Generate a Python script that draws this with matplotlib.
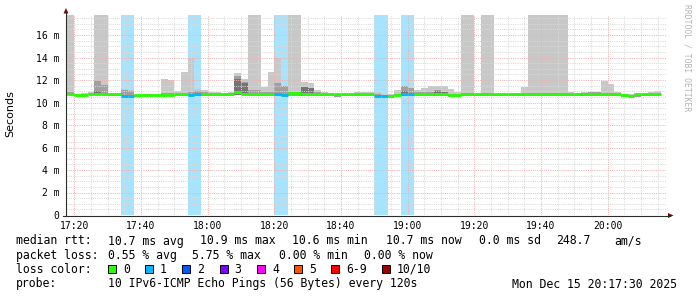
import numpy as np
import matplotlib
matplotlib.use("Agg")
import matplotlib.pyplot as plt
from matplotlib.patches import Rectangle, Polygon

# one column per 120 s step, minutes since midnight
t_start = 17 * 60 + 16
step = 2

# smoke top (ms); 25 = off the scale
hi = [25, 25, 10.80, 10.85, 10.95, 25, 25, 10.80, 10.85, 11.20,
      11.10, 10.70, 10.80, 10.80, 10.80, 12.10, 12.00, 11.00, 12.70, 14.00,
      11.20, 11.10, 10.95, 10.90, 10.85, 10.95, 12.65, 12.05, 25, 25,
      11.40, 12.75, 14.00, 11.45, 25, 25, 11.85, 11.70, 11.10, 10.90,
      10.85, 10.80, 10.80, 10.80, 10.95, 10.95, 10.95, 10.90, 10.80, 10.75,
      11.10, 11.45, 11.30, 11.10, 11.30, 11.50, 11.50, 11.50, 11.20, 10.95,
      25, 25, 10.80, 25, 25, 10.80, 10.80, 10.80, 10.85, 11.40,
      25, 25, 25, 25, 25, 25, 10.95, 10.80, 10.90, 10.95,
      10.95, 11.95, 11.65, 10.95, 10.80, 10.80, 10.80, 10.80, 10.95, 11.00]

# inner (darker) smoke top
mid = [10.90, 10.90, 10.75, 10.75, 10.80, 11.90, 11.55, 10.75, 10.75, 11.15,
       11.05, 10.65, 10.70, 10.70, 10.70, 10.85, 10.85, 10.80, 10.85, 10.95,
       11.00, 10.90, 10.80, 10.80, 10.80, 10.80, 12.40, 11.80, 11.10, 11.10,
       10.90, 10.90, 11.70, 11.45, 10.95, 10.95, 11.40, 11.30, 10.90, 10.80,
       10.80, 10.70, 10.70, 10.70, 10.80, 10.80, 10.80, 10.75, 10.70, 10.60,
       10.80, 11.45, 11.30, 10.95, 10.90, 10.90, 11.10, 10.95, 10.80, 10.75,
       10.85, 10.85, 10.75, 10.85, 10.85, 10.75, 10.75, 10.75, 10.80, 10.80,
       10.85, 10.85, 10.85, 10.85, 10.85, 10.85, 10.80, 10.75, 10.85, 10.90,
       10.90, 10.85, 10.85, 10.80, 10.70, 10.70, 10.75, 10.75, 10.80, 10.80]

# darkest smoke core, only where it shows
dark = {5: 11.0, 26: 12.1, 27: 11.75, 36: 11.35, 37: 11.25, 51: 11.0,
        56: 11.05, 57: 10.95, 78: 10.85}

# smoke bottom
lo = [10.65, 10.65, 10.55, 10.55, 10.65, 10.65, 10.65, 10.60, 10.60, 10.55,
      10.55, 10.50, 10.55, 10.55, 10.55, 10.60, 10.60, 10.60, 10.60, 10.60,
      10.60, 10.60, 10.60, 10.60, 10.60, 10.60, 10.70, 10.65, 10.60, 10.60,
      10.60, 10.60, 10.60, 10.60, 10.60, 10.60, 10.60, 10.60, 10.60, 10.60,
      10.60, 10.50, 10.55, 10.55, 10.60, 10.60, 10.60, 10.55, 10.55, 10.50,
      10.60, 10.60, 10.60, 10.60, 10.60, 10.60, 10.60, 10.60, 10.50, 10.50,
      10.60, 10.60, 10.60, 10.60, 10.60, 10.60, 10.60, 10.60, 10.60, 10.60,
      10.60, 10.60, 10.60, 10.60, 10.60, 10.60, 10.60, 10.60, 10.60, 10.60,
      10.60, 10.60, 10.60, 10.60, 10.50, 10.50, 10.50, 10.60, 10.60, 10.60]

med = [10.75, 10.75, 10.70, 10.70, 10.75, 10.75, 10.75, 10.75, 10.75, 10.62,
       10.62, 10.65, 10.65, 10.65, 10.65, 10.70, 10.70, 10.75, 10.75, 10.68,
       10.72, 10.75, 10.75, 10.75, 10.75, 10.75, 10.90, 10.80, 10.75, 10.75,
       10.75, 10.78, 10.75, 10.70, 10.88, 10.88, 10.80, 10.80, 10.75, 10.75,
       10.78, 10.72, 10.72, 10.72, 10.75, 10.75, 10.75, 10.62, 10.62, 10.55,
       10.70, 10.78, 10.72, 10.75, 10.75, 10.75, 10.75, 10.75, 10.70, 10.70,
       10.75, 10.75, 10.75, 10.75, 10.75, 10.72, 10.72, 10.72, 10.75, 10.75,
       10.75, 10.75, 10.75, 10.75, 10.75, 10.75, 10.72, 10.72, 10.75, 10.75,
       10.75, 10.78, 10.75, 10.72, 10.68, 10.62, 10.72, 10.72, 10.75, 10.75]

# lost pings per step (of 10)
loss = [0] * 90
for k in [9, 10, 19, 20, 32, 33, 47, 48, 51, 52]:
    loss[k] = 1

loss_labels = ["0", "1", "2", "3", "4", "5", "6-9", "10/10"]
loss_colors = ["#26ff00", "#00b8ff", "#0059ff", "#7e00ff", "#ff00ff",
               "#ff5500", "#ff0000", "#a10000"]

W, H = 697, 297
mono = "DejaVu Sans Mono"

fig = plt.figure(figsize=(W / 100, H / 100), dpi=100)
ax = fig.add_axes([66 / W, 1 - 215 / H, 600 / W, 200 / H])
ymax = 200 / 11.25
ax.set_xlim(t_start + 1.5, t_start + 181.5)
ax.set_ylim(0, ymax)

times = t_start + step * np.arange(len(med))
hi = np.array(hi); mid = np.array(mid); lo = np.array(lo)
med = np.array(med); loss = np.array(loss)

# loss background
lx = times[loss > 0]
ax.bar(lx, ymax, bottom=0, width=step, align="edge", color="#a6e3ff",
       linewidth=0, zorder=0.5)

# smoke
ax.bar(times, hi - lo, bottom=lo, width=step, align="edge", color="#c8c8c8",
       linewidth=0, zorder=1)
ax.bar(times, mid - lo, bottom=lo, width=step, align="edge", color="#a0a0a0",
       linewidth=0, zorder=1.1)
dk = np.array(sorted(dark))
ax.bar(times[dk], np.array([dark[k] for k in dk]) - lo[dk], bottom=lo[dk],
       width=step, align="edge", color="#747474", linewidth=0, zorder=1.2)

# grid: fine dotted lines
x_major = np.arange(17 * 60 + 20, 20 * 60 + 20, 20)
x_minor = np.arange(17 * 60 + 20, 20 * 60 + 20, 5)
y_major = np.arange(0, 17, 2)
y_minor = np.arange(0.5, 17.8, 0.5)
gkw = dict(lw=0.72, dashes=(1, 1.2))
for x in x_minor:
    if x not in x_major:
        ax.axvline(x, color="#d8d8d8", zorder=1.5, **gkw)
for y in y_minor:
    if y not in y_major:
        ax.axhline(y, color="#d8d8d8", zorder=1.5, **gkw)
for x in x_major:
    ax.axvline(x, color="#eeb0b0", zorder=1.6, **gkw)
for y in y_major[1:]:
    ax.axhline(y, color="#eeb0b0", zorder=1.6, **gkw)

# median rtt coloured by loss
ax.hlines(med, times, times + step, colors=[loss_colors[l] for l in loss],
          lw=2.1, zorder=3)

for s in ax.spines.values():
    s.set_visible(False)
ax.set_xticks(x_major)
ax.set_xticklabels(["%02d:%02d" % (m // 60, m % 60) for m in x_major],
                   fontfamily=mono, fontsize=7)
ax.set_yticks(y_major)
ax.set_yticklabels(["%d m" % v if v else "0" for v in y_major],
                   fontfamily=mono, fontsize=7)
ax.tick_params(length=0)
ax.tick_params(axis="x", pad=4)
ax.tick_params(axis="y", pad=4.5)

# overlay in pixel coordinates
ov = fig.add_axes([0, 0, 1, 1], facecolor="none")
ov.set_xlim(0, W)
ov.set_ylim(H, 0)
ov.axis("off")

axis_col = "#2c2c2c"
arrow_col = "#7f0000"
ov.plot([66, 66], [216, 11], color=axis_col, lw=0.8)
ov.plot([63, 670], [215.5, 215.5], color=axis_col, lw=0.8)
ov.add_patch(Polygon([[63.5, 13.5], [68.5, 13.5], [66, 8]], closed=True,
                     color=arrow_col, lw=0))
ov.add_patch(Polygon([[668, 213], [668, 218], [673.5, 215.5]], closed=True,
                     color=arrow_col, lw=0))

ov.text(10.5, 113.5, "Seconds", rotation=90, ha="center", va="center",
        fontsize=8, family="DejaVu Sans", color="#000000")
ov.text(687.5, 4, "RRDTOOL / TOBI OETIKER", rotation=-90, ha="center",
        va="top", fontsize=5.8, family=mono, color="#b4b4b4")

fs = 8.3
rows = [244.5, 259, 273, 287.5]
row1 = [(16, "median rtt:"), (107.5, "10.7 ms avg"), (200, "10.9 ms max"),
        (292.5, "10.6 ms min"), (386.5, "10.7 ms now"), (479, "0.0 ms sd"),
        (556, "248.7"), (614, "am/s")]
row2 = [(16, "packet loss:"), (107.5, "0.55 % avg"), (192.5, "5.75 % max"),
        (279, "0.00 % min"), (364.5, "0.00 % now")]
row4 = [(16, "probe:"), (107.5, "10 IPv6-ICMP Echo Pings (56 Bytes) every 120s"),
        (512.5, "Mon Dec 15 20:17:30 2025")]
for x, s in row1:
    ov.text(x, rows[0], s, fontsize=fs, family=mono, va="baseline")
for x, s in row2:
    ov.text(x, rows[1], s, fontsize=fs, family=mono, va="baseline")
for x, s in row4:
    ov.text(x, rows[3], s, fontsize=fs, family=mono, va="baseline")

ov.text(16, rows[2], "loss color:", fontsize=fs, family=mono, va="baseline")
box_x = [108, 145, 182, 219.5, 257, 294, 331, 382]
for bx, lab, col in zip(box_x, loss_labels, loss_colors):
    ov.add_patch(Rectangle((bx, 265), 8, 8, facecolor=col, edgecolor="#000000",
                           lw=0.7))
    ov.text(bx + 15, rows[2], lab, fontsize=fs, family=mono, va="baseline")

fig.savefig("out.png", dpi=100)
